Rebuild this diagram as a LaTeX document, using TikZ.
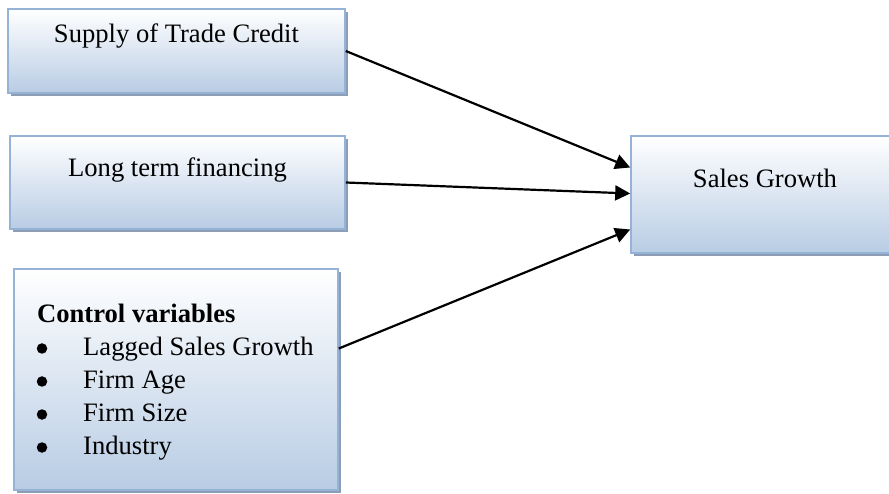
\documentclass[tikz,border=0pt]{standalone}
\usepackage{fontspec}
\setmainfont{Liberation Serif}
\usetikzlibrary{arrows.meta,shadows}
\definecolor{boxborder}{HTML}{95B3D7}
\definecolor{boxtop}{HTML}{FFFFFF}
\definecolor{boxbottom}{HTML}{B8CCE4}
\definecolor{boxshadow}{HTML}{8C9DB5}
\tikzset{
  varbox/.style={rectangle, draw=boxborder, line width=1.6pt,
    top color=boxtop, bottom color=boxbottom, inner xsep=0pt, inner ysep=0pt,
    general shadow={shadow xshift=3pt, shadow yshift=-3pt, fill=boxshadow},
    font=\fontsize{26.6}{33}\selectfont, text=black},
  link/.style={line width=2.2pt, -{Triangle[length=15pt,width=15pt]}},
  bulletdot/.style={circle, fill=black, inner sep=0pt, minimum size=10.5pt}
}
\begin{document}
\begin{tikzpicture}[x=1pt,y=1pt]
\useasboundingbox (0,0) rectangle (889,493);
\clip (0,0) rectangle (889,493);
\node[varbox, minimum width=337pt, text height=34pt, text depth=50pt] (tc) at (176.5,442) {Supply of Trade Credit};
\node[varbox, minimum width=335pt, text height=41pt, text depth=52pt] (lt) at (177.5,310.5) {Long term financing};
\node[varbox, minimum width=268pt, text height=52pt, text depth=65pt] (sg) at (765,298.5) {Sales Growth};
\node[varbox, minimum width=324pt, minimum height=221pt] (ctrl) at (176,113.5) {};
\node[anchor=base west, inner sep=0pt, font=\fontsize{26.6}{33}\selectfont] (ctrltext) at (37,170)
  {\begin{tabular}[t]{@{}p{46pt}@{}l@{}}
   \multicolumn{2}{@{}l@{}}{\bfseries Control variables}\\
   & Lagged Sales Growth\\
   & Firm Age\\
   & Firm Size\\
   & Industry
   \end{tabular}};
\foreach \k in {1,2,3,4}
  \node[bulletdot] (dot\k) at ([xshift=5pt, yshift={-33pt*\k+7.5pt}]ctrltext.base west) {};
\coordinate (s3) at ([yshift=31pt]ctrl.east);
\coordinate (e1) at ([yshift=27pt]sg.west);
\coordinate (e2) at ([yshift=1pt]sg.west);
\coordinate (e3) at ([yshift=-35pt]sg.west);
\draw[link] (tc.east) -- (e1);
\draw[link] (lt.east) -- (e2);
\draw[link] (s3) -- (e3);
\end{tikzpicture}
\end{document}
